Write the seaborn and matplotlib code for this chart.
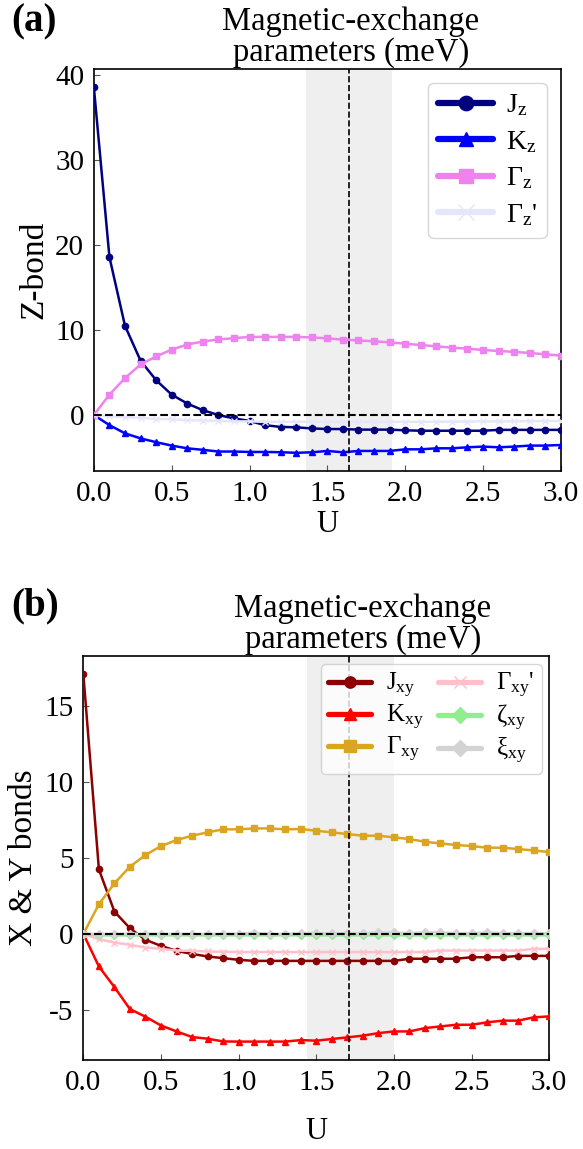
import numpy as np
import pandas as pd
import matplotlib
matplotlib.use("Agg")
import matplotlib.pyplot as plt
import seaborn as sns

# ---------------- data ----------------
U = [0.0, 0.1, 0.2, 0.3, 0.4, 0.5, 0.6, 0.7, 0.8, 0.9, 1.0,
     1.1, 1.2, 1.3, 1.4, 1.5, 1.6, 1.7, 1.8, 1.9, 2.0,
     2.1, 2.2, 2.3, 2.4, 2.5, 2.6, 2.7, 2.8, 2.9, 3.0]

Jz = [38.6, 18.6, 10.5, 6.4, 4.1, 2.4, 1.35, 0.57, 0.0, -0.4, -0.7,
      -1.2, -1.4, -1.45, -1.58, -1.65, -1.65, -1.72, -1.72, -1.72, -1.8,
      -1.85, -1.85, -1.85, -1.85, -1.85, -1.75, -1.75, -1.75, -1.75, -1.75]
Kz = [0.0, -1.19, -2.16, -2.75, -3.2, -3.6, -3.92, -4.1, -4.3, -4.3, -4.35,
      -4.35, -4.38, -4.45, -4.39, -4.23, -4.39, -4.23, -4.23, -4.23, -4.04,
      -4.04, -3.92, -3.92, -3.8, -3.72, -3.8, -3.72, -3.6, -3.6, -3.53]
Gz = [0.0, 2.4, 4.35, 5.95, 6.9, 7.7, 8.3, 8.65, 8.9, 9.05, 9.2,
      9.2, 9.2, 9.2, 9.14, 9.03, 8.87, 8.79, 8.68, 8.56, 8.4,
      8.24, 8.09, 7.93, 7.82, 7.66, 7.54, 7.43, 7.31, 7.15, 7.0]
Gpz = [0.0, -0.15, -0.25, -0.35, -0.45, -0.5, -0.6, -0.65, -0.7, -0.75, -0.75,
       -0.8, -0.8, -0.8, -0.8, -0.8, -0.8, -0.8, -0.8, -0.8, -0.8,
       -0.8, -0.8, -0.78, -0.78, -0.75, -0.75, -0.75, -0.72, -0.72, -0.7]

Jxy = [17.1, 4.25, 1.47, 0.37, -0.39, -0.79, -1.12, -1.32, -1.49, -1.6, -1.71,
       -1.78, -1.78, -1.78, -1.78, -1.78, -1.78, -1.78, -1.78, -1.78, -1.78,
       -1.64, -1.64, -1.64, -1.64, -1.54, -1.54, -1.54, -1.45, -1.45, -1.45]
Kxy = [0.0, -2.15, -3.51, -4.96, -5.46, -6.04, -6.43, -6.8, -6.91, -7.09, -7.1,
       -7.1, -7.1, -7.1, -7.0, -7.04, -6.93, -6.82, -6.71, -6.54, -6.43,
       -6.43, -6.21, -6.1, -5.99, -5.99, -5.83, -5.72, -5.72, -5.5, -5.44]
Gxy = [0.0, 1.95, 3.33, 4.43, 5.2, 5.79, 6.18, 6.47, 6.69, 6.89, 6.89,
       6.95, 6.95, 6.89, 6.91, 6.8, 6.69, 6.58, 6.47, 6.47, 6.36,
       6.25, 6.07, 5.96, 5.86, 5.79, 5.68, 5.68, 5.59, 5.5, 5.39]
Gpxy = [0.0, -0.35, -0.57, -0.72, -0.9, -0.99, -1.1, -1.12, -1.16, -1.18, -1.2,
        -1.2, -1.2, -1.2, -1.2, -1.2, -1.2, -1.2, -1.2, -1.2, -1.2,
        -1.2, -1.2, -1.1, -1.1, -1.1, -1.1, -1.1, -1.1, -0.99, -0.99]
Zxy = [0.0, -0.1, -0.1, -0.1, -0.1, -0.1, -0.1, -0.1, -0.1, -0.1, -0.1,
       -0.1, -0.1, -0.1, -0.1, -0.1, -0.1, -0.1, -0.1, -0.1, -0.1,
       -0.1, -0.1, -0.1, -0.1, -0.1, -0.1, -0.1, -0.1, -0.1, -0.1]
Xxy = [0.0, 0.0, 0.0, 0.02, 0.0, 0.0, 0.0, 0.0, 0.0, 0.0, 0.02,
       0.08, 0.0, 0.0, 0.05, 0.05, 0.05, 0.05, 0.05, 0.1, 0.1,
       0.05, 0.1, 0.1, 0.05, 0.05, 0.1, 0.05, 0.05, 0.05, 0.05]

labels_a = [r"J$_\mathregular{z}$", r"K$_\mathregular{z}$",
            r"Γ$_\mathregular{z}$", r"Γ$_\mathregular{z}$'"]
labels_b = [r"J$_\mathregular{xy}$", r"K$_\mathregular{xy}$", r"Γ$_\mathregular{xy}$",
            r"Γ$_\mathregular{xy}$'", r"ζ$_\mathregular{xy}$", r"ξ$_\mathregular{xy}$"]

band_a = [1.365, 1.915]
vline_a = 1.64
band_b = [1.44, 2.0]
vline_b = 1.71

# ---------------- style ----------------
sns.set_theme(style="white")
plt.rcParams["font.family"] = ["Liberation Serif", "DejaVu Serif"]
plt.rcParams["mathtext.fontset"] = "custom"
plt.rcParams["mathtext.rm"] = "Liberation Serif"
plt.rcParams["mathtext.it"] = "Liberation Serif:italic"
plt.rcParams["axes.edgecolor"] = "black"
plt.rcParams["axes.linewidth"] = 1.2
plt.rcParams["text.color"] = "black"
plt.rcParams["axes.labelcolor"] = "black"
plt.rcParams["xtick.color"] = "black"
plt.rcParams["ytick.color"] = "black"

fig = plt.figure(figsize=(5.83, 11.49), dpi=100)
ax1 = fig.add_axes([0.161, 0.59, 0.801, 0.350])
ax2 = fig.add_axes([0.143, 0.0775, 0.799, 0.3515])


def draw(ax, series, labels, colors, markers, band, vline, ylabel, title_x,
         xlabelpad, leg_kw, leg_lw):
    ax.axvspan(band[0], band[1], color="#efefef", zorder=0, lw=0)
    for vals, lab, col, mk in zip(series, labels, colors, markers):
        df = pd.DataFrame({"U": U, "val": vals})
        ms = 5 if mk in ("x",) else 4.5
        sns.lineplot(data=df, x="U", y="val", ax=ax, color=col, marker=mk,
                     markersize=ms, markeredgecolor=col, markeredgewidth=1.0,
                     linewidth=1.8, label=lab, zorder=3)
    ax.axhline(0, color="black", ls="--", lw=1.5, zorder=4)
    ax.axvline(vline, color="black", ls="--", lw=1.2, zorder=4)
    ax.set_xlim(0, 3.0)
    ax.set_xticks([0.0, 0.5, 1.0, 1.5, 2.0, 2.5, 3.0])
    ax.set_xticklabels(["0.0", "0.5", "1.0", "1.5", "2.0", "2.5", "3.0"])
    ax.tick_params(direction="in", length=4, width=0.8, color="#555555",
                   labelcolor="black", labelsize=21, pad=7, bottom=True, left=True)
    ax.set_xlabel("U", fontsize=22, labelpad=xlabelpad)
    ax.set_ylabel(ylabel, fontsize=24, labelpad=4)
    ax.set_title("Magnetic-exchange\nparameters (meV)", fontsize=23.5,
                 x=title_x, pad=6, linespacing=1.0)
    leg = ax.legend(loc="upper right", frameon=True, fancybox=True,
                    edgecolor="#cccccc", framealpha=0.8, **leg_kw)
    for h in leg.get_lines():
        h.set_linewidth(leg_lw)
    for sp in ax.spines.values():
        sp.set_color("black")


draw(ax1, [Jz, Kz, Gz, Gpz], labels_a,
     ["#000080", "#0000ff", "#ee82ee", "#e6e6fa"],
     ["o", "^", "s", "x"], band_a, vline_a, "Z-bond", 0.55, 2,
     dict(fontsize=20, ncol=1, handlelength=2.0, handletextpad=0.45,
          labelspacing=0.38, borderpad=0.35, markerscale=2.3), 4.5)
ax1.set_yticks([0, 10, 20, 30, 40])
ax1.set_yticklabels(["0", "10", "20", "30", "40"])

draw(ax2, [Jxy, Kxy, Gxy, Gpxy, Zxy, Xxy], labels_b,
     ["#8b0000", "#ff0000", "#daa520", "#ffc0cb", "#90ee90", "#d3d3d3"],
     ["o", "^", "s", "x", "D", "D"], band_b, vline_b, "X & Y bonds", 0.6, 15,
     dict(fontsize=18, ncol=2, handlelength=1.7, handletextpad=0.6,
          columnspacing=0.6, labelspacing=0.12, borderpad=0.3,
          borderaxespad=0.3, markerscale=1.8), 3.8)
ax2.set_yticks([-5, 0, 5, 10, 15])
ax2.set_yticklabels(["-5", "0", "5", "10", "15"])

fig.text(0.02, 0.997, "(a)", fontsize=28, fontweight="bold", va="top", ha="left")
fig.text(0.02, 0.489, "(b)", fontsize=28, fontweight="bold", va="top", ha="left")

fig.savefig("out.png", dpi=100)
